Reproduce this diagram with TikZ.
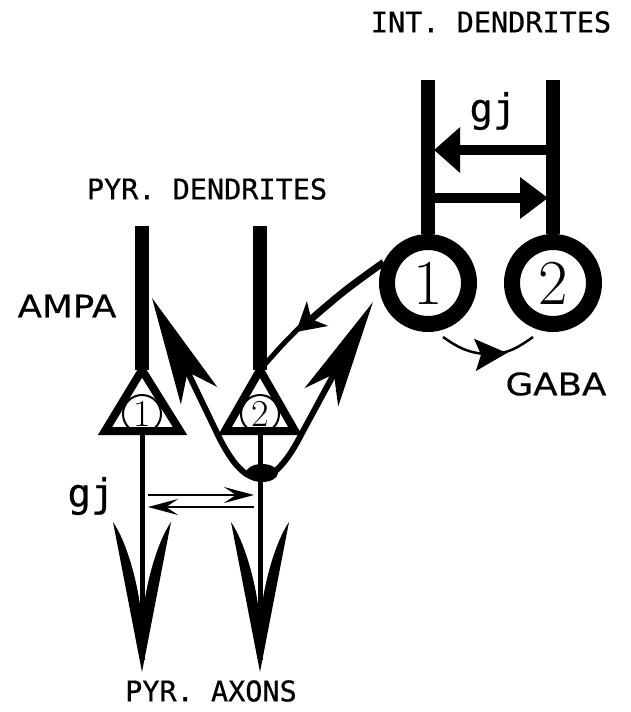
\documentclass[tikz,border=0pt]{standalone}
\usepackage{fontspec}
\usetikzlibrary{arrows.meta}
\newfontfamily\monofont[FakeBold=0.6]{DejaVu Sans Mono}
\newfontfamily\labelfont[FakeStretch=1.15,FakeBold=0.4]{DejaVu Sans}
\def\axonhead#1{\fill (#1,672) -- (#1-29,522) .. controls (#1-14,544) and (#1-2,590) .. (#1,624) .. controls (#1+2,590) and (#1+14,544) .. (#1+29,522) -- cycle;}

\begin{document}
\begin{tikzpicture}[x=1pt, y=-1pt,
		dendrite/.style={line width=14pt},
		soma/.style={line width=8pt, line join=miter},
		axon/.style={line width=5pt},
		thinline/.style={line width=2.5pt},
		collateral/.style={line width=6pt, {Stealth[length=108pt,width=40pt,inset=26pt]}-{Stealth[length=108pt,width=38pt,inset=26pt]}},
		interneuron/.style={draw, circle, line width=16pt, minimum size=82pt, inner sep=0pt, font=\fontsize{64}{64}\selectfont},
		pyrnum/.style={draw, circle, line width=2pt, minimum size=38pt, inner sep=0pt, font=\fontsize{38}{38}\selectfont},
		mono/.style={font=\monofont\fontsize{28.5}{28.5}\selectfont},
		gjlabel/.style={font=\monofont\fontsize{39}{39}\selectfont},
		sans/.style={font=\labelfont\fontsize{31}{31}\selectfont}]
		\useasboundingbox (0,0) rectangle (630,712);

		% interneurons
		\node[interneuron] (i1) at (428,283) {1};
		\node[interneuron] (i2) at (553,283) {2};
		\coordinate (i1top) at (428,80);
		\coordinate (i2top) at (553,80);
		\draw[dendrite] (i1top) -- (i1.north);
		\draw[dendrite] (i2top) -- (i2.north);

		% gap junction between interneurons
		\coordinate (gjr) at (553,150);
		\coordinate (gjl) at (434,150);
		\coordinate (gjl2) at (428,198);
		\coordinate (gjr2) at (548,198);
		\draw[line width=10pt, -{Triangle[length=26pt,width=44pt]}] (gjr) -- (gjl);
		\draw[line width=10pt, -{Triangle[length=28pt,width=40pt]}] (gjl2) -- (gjr2);

		% GABA synapse
		\coordinate (ga) at (443,337);
		\coordinate (gm) at (490,354);
		\coordinate (gt) at (507,353);
		\coordinate (gb) at (533,337);
		\draw[thinline] (ga) to[out=-35,in=180] (gm) to[out=0,in=-145] (gb);
		\draw[thinline, -{Stealth[length=32pt,width=32pt,inset=6pt]}] (gm) -- (gt);

		% pyramidal cells
		\coordinate (p1apex) at (142,370);
		\coordinate (p2apex) at (260,370);
		\coordinate (p1top) at (142,226);
		\coordinate (p2top) at (260,226);
		\node[pyrnum] (p1) at (142,414) {1};
		\node[pyrnum] (p2) at (260,414) {2};
		\draw[dendrite] (p1top) -- (p1apex);
		\draw[dendrite] (p2top) -- (p2apex);
		\draw[soma] (p1apex) -- (105,431) coordinate (p1l) -- (180,431) coordinate (p1r) -- cycle;
		\draw[soma] (p2apex) -- (225,431) coordinate (p2l) -- (295,431) coordinate (p2r) -- cycle;

		% axons
		\coordinate (p1base) at (142,431);
		\coordinate (p2base) at (260,431);
		\coordinate (p1end) at (142,660);
		\coordinate (p2end) at (260,660);
		\draw[axon] (p1base) -- (p1end);
		\draw[axon] (p2base) -- (p2end);
		\axonhead{142}
		\axonhead{260}

		% axon collateral of cell 2
		\coordinate (cl) at (152,298);
		\coordinate (cr) at (373,302);
		\draw[collateral] (cl) -- (217,433) .. controls (246,494) and (272,492) .. (302,433) -- (cr);
		\fill (262,473) ellipse (16pt and 9pt);

		% gap junction between axons
		\coordinate (ax1a) at (148,495);
		\coordinate (ax2a) at (254,495);
		\coordinate (ax1b) at (148,507);
		\coordinate (ax2b) at (254,507);
		\draw[thinline, -{Stealth[length=30pt,width=16pt,inset=12pt]}] (ax1a) -- (ax2a);
		\draw[thinline, -{Stealth[length=30pt,width=16pt,inset=12pt]}] (ax2b) -- (ax1b);

		% inhibition of cell 2
		\coordinate (ih) at (296,332);
		\draw[line width=7pt, -{Stealth[length=28pt,width=32pt,inset=8pt]}] (i1.155) .. controls (345,290) .. (ih);
		\draw[line width=5pt] (303,324) .. controls (282,345) .. (p2apex);

		% labels
		\node[mono] (intlab) at (491,22) {INT. DENDRITES};
		\node[mono] (pyrlab) at (207,189) {PYR. DENDRITES};
		\node[mono] (axlab) at (211,691) {PYR. AXONS};
		\node[gjlabel] (gjtop) at (493,111) {gj};
		\node[gjlabel] (gjbot) at (91,496) {gj};
		\node[sans] (ampa) at (67,306) {AMPA};
		\node[sans] (gaba) at (556,384) {GABA};
	\end{tikzpicture}
\end{document}
